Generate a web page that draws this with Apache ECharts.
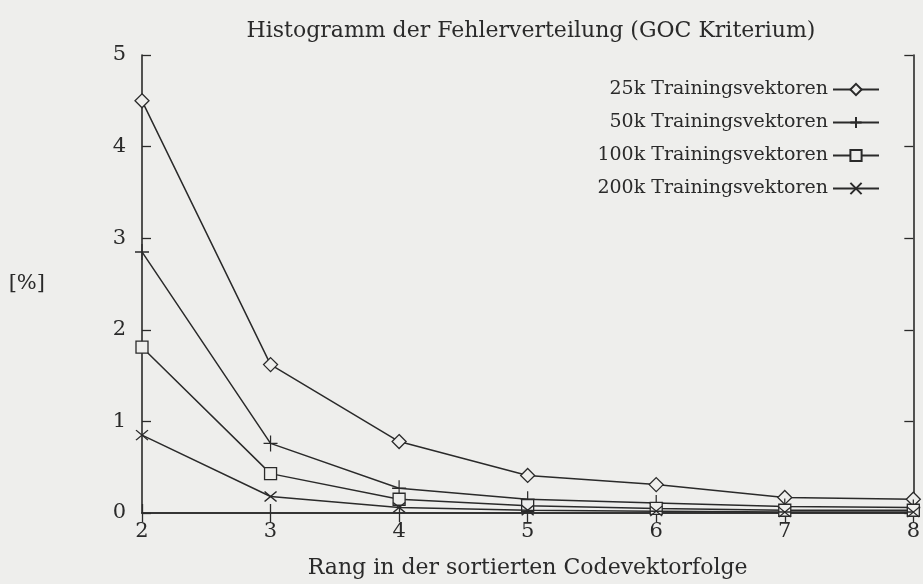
<!DOCTYPE html>
<html>
<head>
<meta charset="utf-8">
<script src="https://cdn.jsdelivr.net/npm/echarts@6/dist/echarts.min.js"></script>
<style>html,body{margin:0;padding:0;background:#eeeeec;}#chart{width:923px;height:584px;}</style>
</head>
<body>
<div id="chart"></div>
<script>
const ranks = [2, 3, 4, 5, 6, 7, 8];
const seriesNames = ['25k Trainingsvektoren', '50k Trainingsvektoren', '100k Trainingsvektoren', '200k Trainingsvektoren'];
const v25k  = [4.50, 1.62, 0.78, 0.41, 0.31, 0.17, 0.15];
const v50k  = [2.85, 0.76, 0.27, 0.15, 0.11, 0.07, 0.06];
const v100k = [1.81, 0.43, 0.15, 0.08, 0.05, 0.03, 0.03];
const v200k = [0.85, 0.18, 0.06, 0.03, 0.02, 0.01, 0.01];

const ink = '#2a2a2a';
const bg = '#eeeeec';
const font = '"DejaVu Serif", "Liberation Serif", serif';
const symbols = [
  'path://M0,-1L1,0L0,1L-1,0Z',
  'path://M0,-1L0,1M-1,0L1,0',
  'path://M-1,-1L1,-1L1,1L-1,1Z',
  'path://M-1,-1L1,1M-1,1L1,-1'
];
const sizes = [[14, 14], [14, 16], [12, 12], [12, 10]];
const fills = [bg, 'none', bg, 'none'];
const values = [v25k, v50k, v100k, v200k];

const series = seriesNames.map((n, i) => ({
  name: n,
  type: 'line',
  data: ranks.map((r, j) => [r, values[i][j]]),
  symbol: symbols[i],
  symbolSize: sizes[i],
  showAllSymbol: true,
  lineStyle: { color: ink, width: 1.5 },
  itemStyle: { color: fills[i], borderColor: ink, borderWidth: 1.3 },
  emphasis: { disabled: true },
  z: 3 + i
}));

const axisCommon = {
  axisLine: { show: true, lineStyle: { color: ink, width: 1.6 } },
  axisTick: { show: true, inside: true, length: 9, lineStyle: { color: ink, width: 1.3 } },
  splitLine: { show: false }
};

const chart = echarts.init(document.getElementById('chart'), null, { renderer: 'canvas' });
chart.setOption({
  backgroundColor: bg,
  animation: false,
  title: {
    text: 'Histogramm der Fehlerverteilung (GOC Kriterium)',
    left: 526, top: 15, textAlign: 'center',
    textStyle: { fontFamily: font, fontSize: 22, fontWeight: 'normal', color: ink }
  },
  legend: {
    orient: 'vertical',
    align: 'right',
    right: 38, top: 75,
    itemGap: 14,
    itemWidth: 46, itemHeight: 14,
    textStyle: { fontFamily: font, fontSize: 19, color: ink },
    data: seriesNames
  },
  grid: { left: 142, right: 7, top: 55, bottom: 71, containLabel: false },
  xAxis: [Object.assign({
    type: 'value', min: 2, max: 8, interval: 1,
    name: 'Rang in der sortierten Codevektorfolge',
    nameLocation: 'middle', nameGap: 44,
    nameTextStyle: { fontFamily: font, fontSize: 22, color: ink },
    axisLabel: { fontFamily: font, fontSize: 21, color: ink, margin: 8 }
  }, axisCommon), Object.assign({
    type: 'value', min: 2, max: 8, interval: 1, position: 'top',
    axisLabel: { show: false }
  }, axisCommon)],
  yAxis: [Object.assign({
    type: 'value', min: 0, max: 5, interval: 1,
    name: '[%]',
    nameLocation: 'middle', nameGap: 97, nameRotate: 0,
    nameTextStyle: { fontFamily: font, fontSize: 21, color: ink },
    axisLabel: { fontFamily: font, fontSize: 21, color: ink, margin: 16 }
  }, axisCommon), Object.assign({
    type: 'value', min: 0, max: 5, interval: 1, position: 'right',
    axisLabel: { show: false }
  }, axisCommon)],
  series: series
});
</script>
</body>
</html>
